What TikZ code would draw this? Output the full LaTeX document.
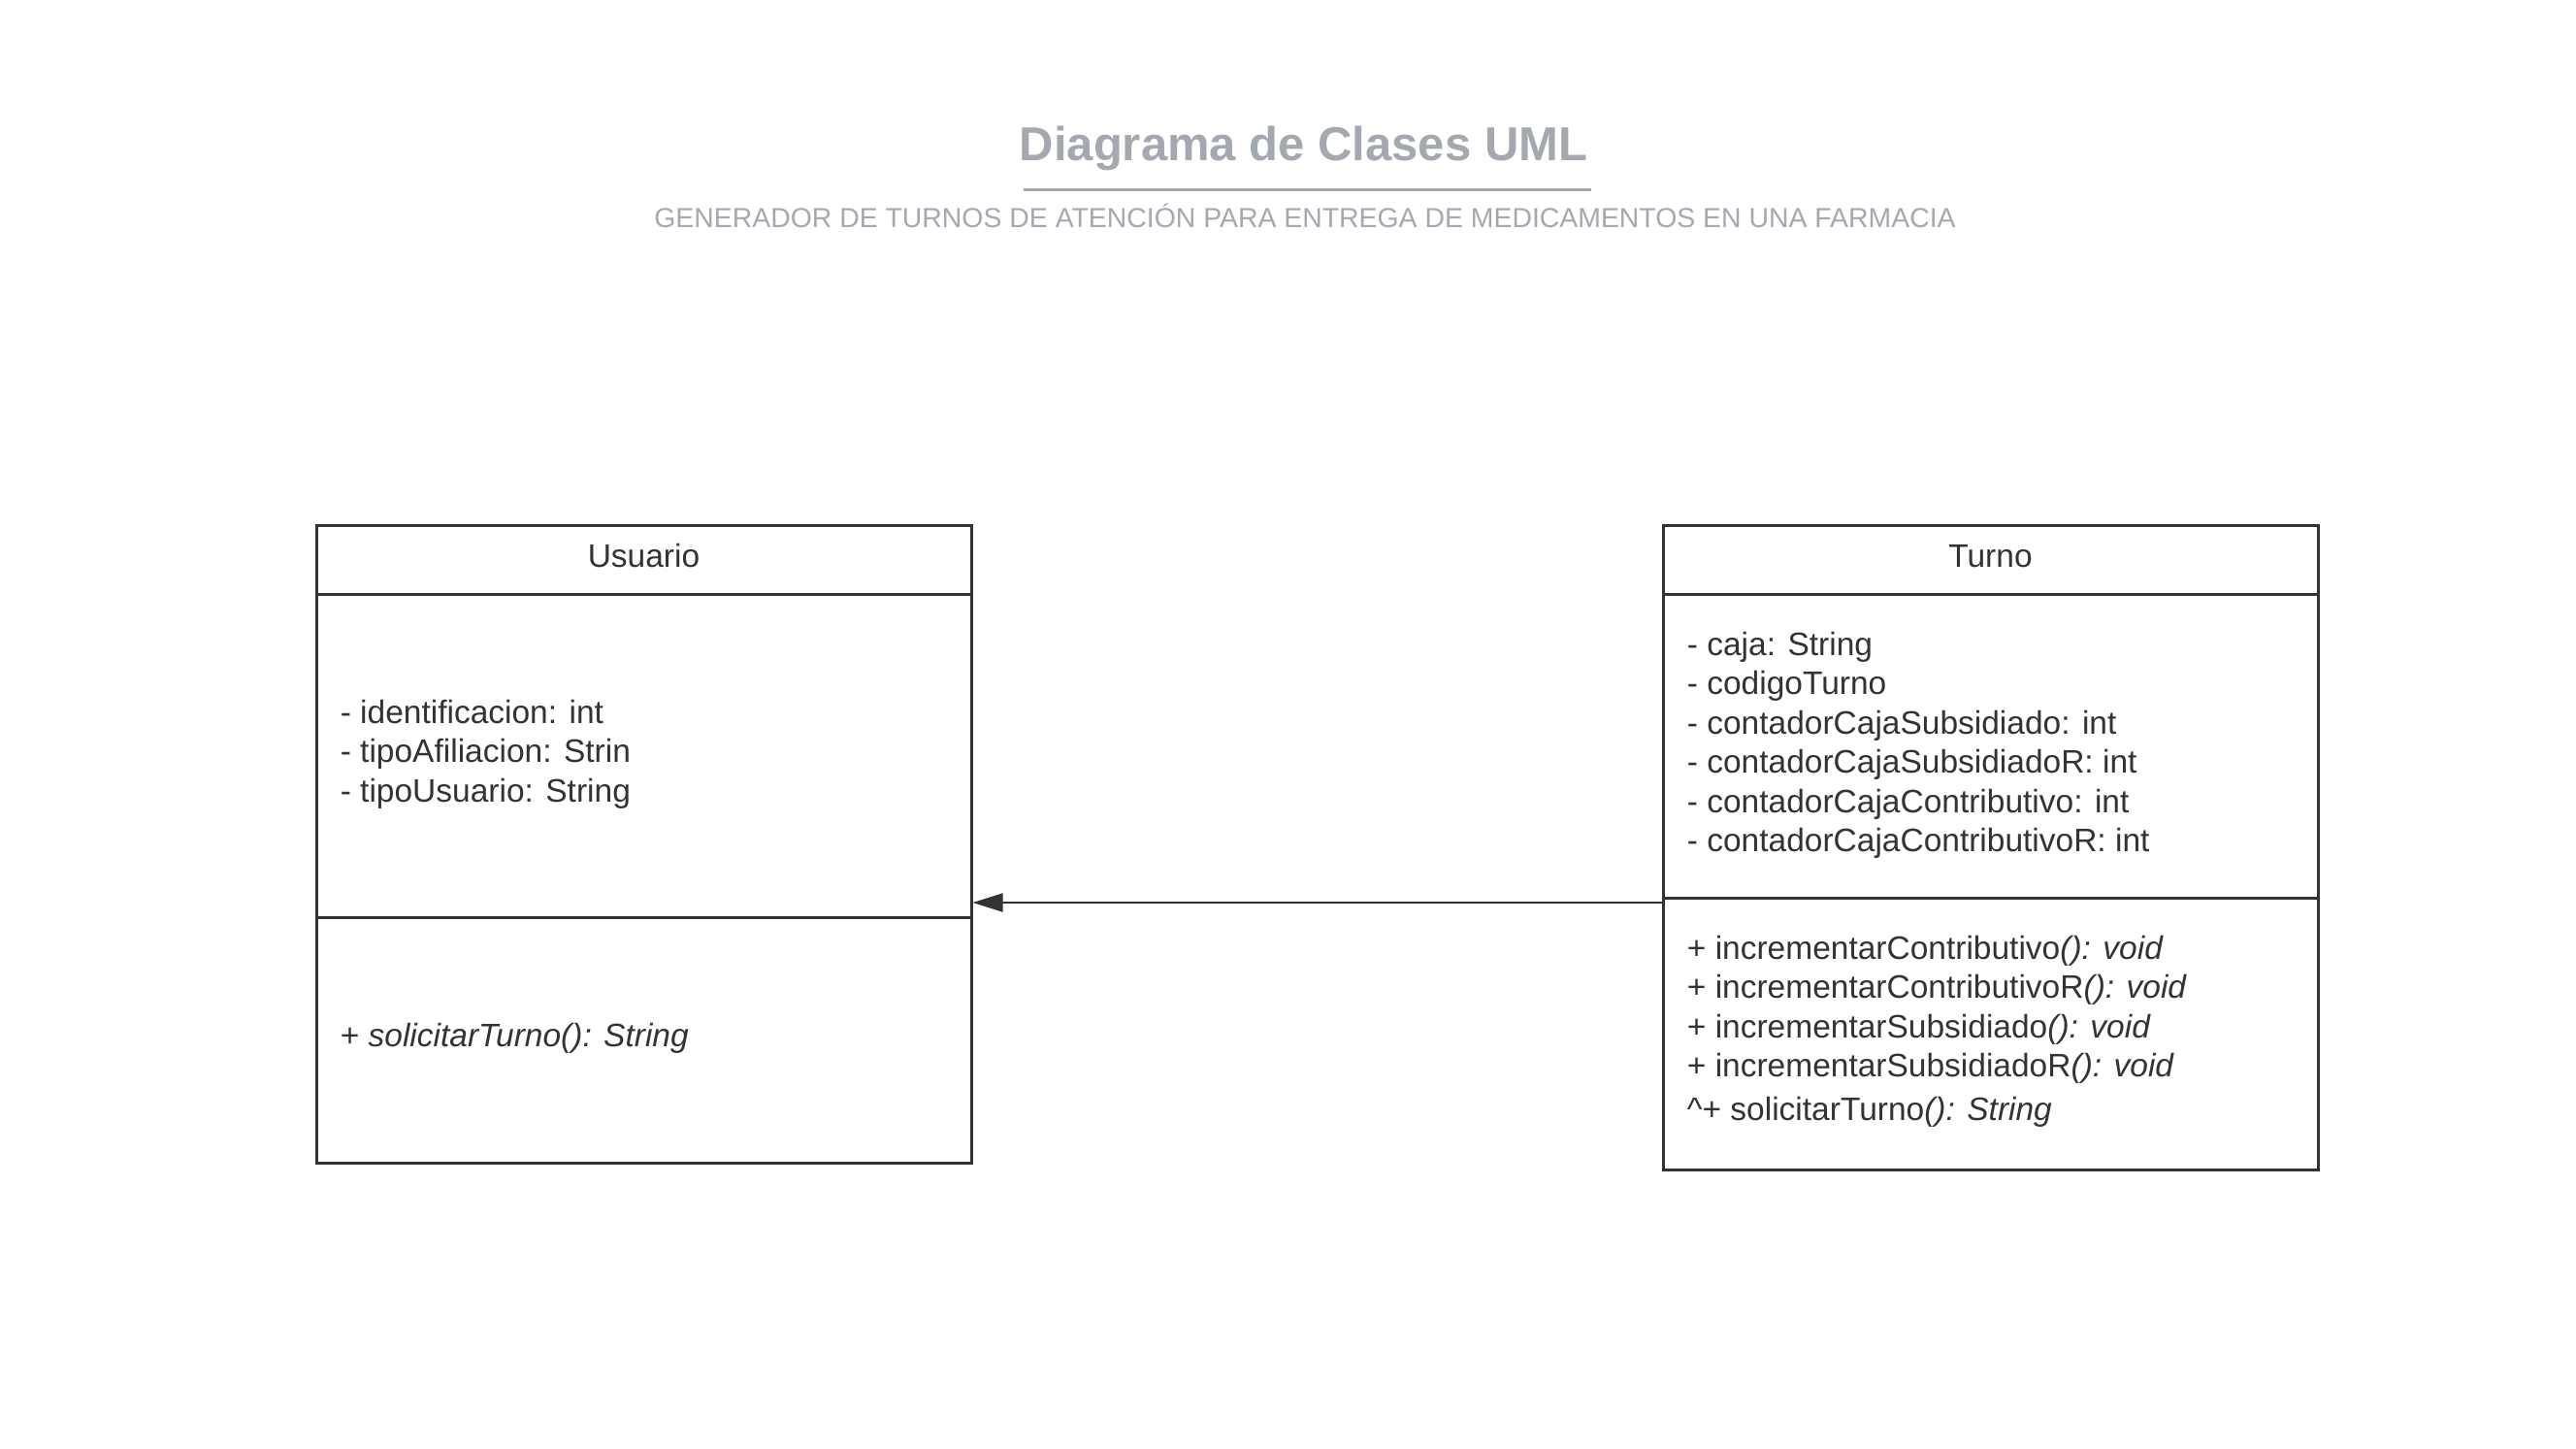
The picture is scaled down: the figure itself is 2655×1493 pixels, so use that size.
\documentclass[tikz,border=0pt]{standalone}
\usepackage{fontspec}
\setmainfont{Liberation Sans}
\usetikzlibrary{arrows.meta}
\definecolor{ink}{HTML}{333333}
\definecolor{titlegray}{HTML}{A4A9B1}
\begin{document}
\begin{tikzpicture}[x=0.5pt,y=-0.5pt,
  box/.style={draw=ink,line width=1.5pt,rectangle,inner sep=0pt,minimum width=337.5pt},
  txt/.style={inner sep=0pt,text=ink,font=\fontsize{16.75pt}{20.3pt}\selectfont},
  member/.style={txt,anchor=base west},
  arr/.style={draw=ink,line width=1pt,-{Triangle[length=15.5pt,width=9.5pt]}}]
\useasboundingbox[fill=white] (0,0) rectangle (2655,1493);

% title
\node[inner sep=0pt,anchor=base,text=titlegray,font=\fontsize{24.5pt}{29pt}\selectfont\bfseries] (title) at (1343.5,165) {Diagrama de Clases UML};
\draw[titlegray,line width=1.5pt] (1055,195) -- (1640,195);
\node[inner sep=0pt,anchor=base,text=titlegray,font=\fontsize{14.2pt}{17pt}\selectfont] (subtitle) at (1345,234) {GENERADOR DE TURNOS DE ATENCIÓN PARA ENTREGA DE MEDICAMENTOS EN UNA FARMACIA};

% Usuario
\node[box,minimum height=35.5pt] (uhead) at (663.5,576.5) {};
\node[box,minimum height=166.5pt] (uattr) at (663.5,778.5) {};
\node[box,minimum height=126.5pt] (umeth) at (663.5,1071.5) {};
\node[txt,anchor=base] (utitle) at (663.5,584.5) {Usuario};
\node[member] (ua1) at (350.4,745) {- identificacion: int};
\node[member] (ua2) at (350.4,785.5) {- tipoAfiliacion: Strin};
\node[member] (ua3) at (350.4,826) {- tipoUsuario: String};
\node[member] (um1) at (350.4,1078) {+ \textit{solicitarTurno(): String}};

% Turno
\node[box,minimum height=35.5pt] (thead) at (2051.5,576.5) {};
\node[box,minimum height=156.5pt] (tattr) at (2051.5,768.5) {};
\node[box,minimum height=140pt] (tmeth) at (2051.5,1065) {};
\node[txt,anchor=base] (ttitle) at (2051.5,584.5) {Turno};
\node[member] (ta1) at (1738.5,675) {- caja: String};
\node[member] (ta2) at (1738.5,715.5) {- codigoTurno};
\node[member] (ta3) at (1738.5,756) {- contadorCajaSubsidiado: int};
\node[member] (ta4) at (1738.5,796.5) {- contadorCajaSubsidiadoR: int};
\node[member] (ta5) at (1738.5,837) {- contadorCajaContributivo: int};
\node[member] (ta6) at (1738.5,877.5) {- contadorCajaContributivoR: int};
\node[member] (tm1) at (1738.5,988) {+ incrementarContributivo\textit{(): void}};
\node[member] (tm2) at (1738.5,1028.5) {+ incrementarContributivoR\textit{(): void}};
\node[member] (tm3) at (1738.5,1069) {+ incrementarSubsidiado\textit{(): void}};
\node[member] (tm4) at (1738.5,1109.5) {+ incrementarSubsidiadoR\textit{(): void}};
\node[member] (tm5) at (1738.5,1154) {\textasciicircum+ solicitarTurno\textit{(): String}};

% association arrow
\draw[arr] ([yshift=-3.25pt]tmeth.north west) coordinate (s) -- (s -| uattr.east);
\end{tikzpicture}
\end{document}
